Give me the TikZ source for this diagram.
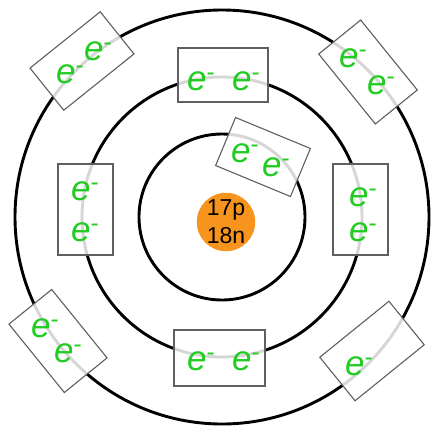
\documentclass[tikz,border=0pt]{standalone}
\usepackage{fontspec}
\setmainfont{Liberation Sans}
\definecolor{egreen}{RGB}{34,204,34}
\definecolor{nucorange}{RGB}{247,148,29}
\definecolor{boxgray}{RGB}{95,95,95}
\newcommand{\elec}{\textit{e}\textsuperscript{-}}
\begin{document}
\begin{tikzpicture}[x=1pt,y=-1pt,
  orbit/.style={draw=black,line width=2.9pt},
  ebox/.style={draw=boxgray,line width=1.1pt,fill=white,fill opacity=0.84,text opacity=1,inner sep=0pt},
  hbox/.style={ebox,minimum width=90pt,minimum height=54pt},
  vbox/.style={ebox,minimum width=55pt,minimum height=91pt},
  el/.style={text=egreen,font=\fontsize{35}{35}\selectfont,inner sep=0pt,anchor=base west},
  nucleus/.style={circle,fill=nucorange,minimum size=57pt,inner sep=0pt,align=center,font=\fontsize{23}{28}\selectfont}]
\useasboundingbox (0,0) rectangle (433,426);
\fill[white] (0,0) rectangle (433,426);
\coordinate (c) at (222,217);
% orbits
\draw[orbit] (c) circle[radius=207pt];
\draw[orbit] (c) circle[radius=140pt];
\draw[orbit] (c) circle[radius=83pt];
% boxes
\node[hbox,rotate=38.7] (b1) at (82,61) {};
\node[hbox] (b2) at (223,75) {};
\node[hbox,rotate=-51] (b3) at (368,72) {};
\node[hbox,minimum width=81pt,minimum height=52pt,rotate=-22.5] (b4) at (263,157) {};
\node[vbox] (b5) at (85.5,209.5) {};
\node[vbox] (b6) at (360.5,209.5) {};
\node[hbox,minimum width=91pt,minimum height=56pt] (b7) at (219.5,358) {};
\node[hbox,minimum width=88pt,minimum height=55pt,rotate=-51] (b8) at (58,341) {};
\node[hbox,minimum width=89pt,minimum height=56pt,rotate=39] (b9) at (372,351) {};
% electrons
\node[el] (e1a) at (56,83) {\elec};
\node[el] (e1b) at (84,60) {\elec};
\node[el] (e2a) at (187,90) {\elec};
\node[el] (e2b) at (232,90) {\elec};
\node[el] (e3a) at (339,67) {\elec};
\node[el] (e3b) at (367,94) {\elec};
\node[el] (e4a) at (231,162) {\elec};
\node[el] (e4b) at (262,176) {\elec};
\node[el] (e5a) at (71,200) {\elec};
\node[el] (e5b) at (71,241) {\elec};
\node[el] (e6a) at (349,206) {\elec};
\node[el] (e6b) at (349,241) {\elec};
\node[el] (e7a) at (187,370) {\elec};
\node[el] (e7b) at (232,370) {\elec};
\node[el] (e8a) at (31,337) {\elec};
\node[el] (e8b) at (54,362) {\elec};
\node[el] (e9a) at (345,375) {\elec};
% nucleus
\node[nucleus] (nuc) at (226,222) {17p\\18n};
\end{tikzpicture}
\end{document}
